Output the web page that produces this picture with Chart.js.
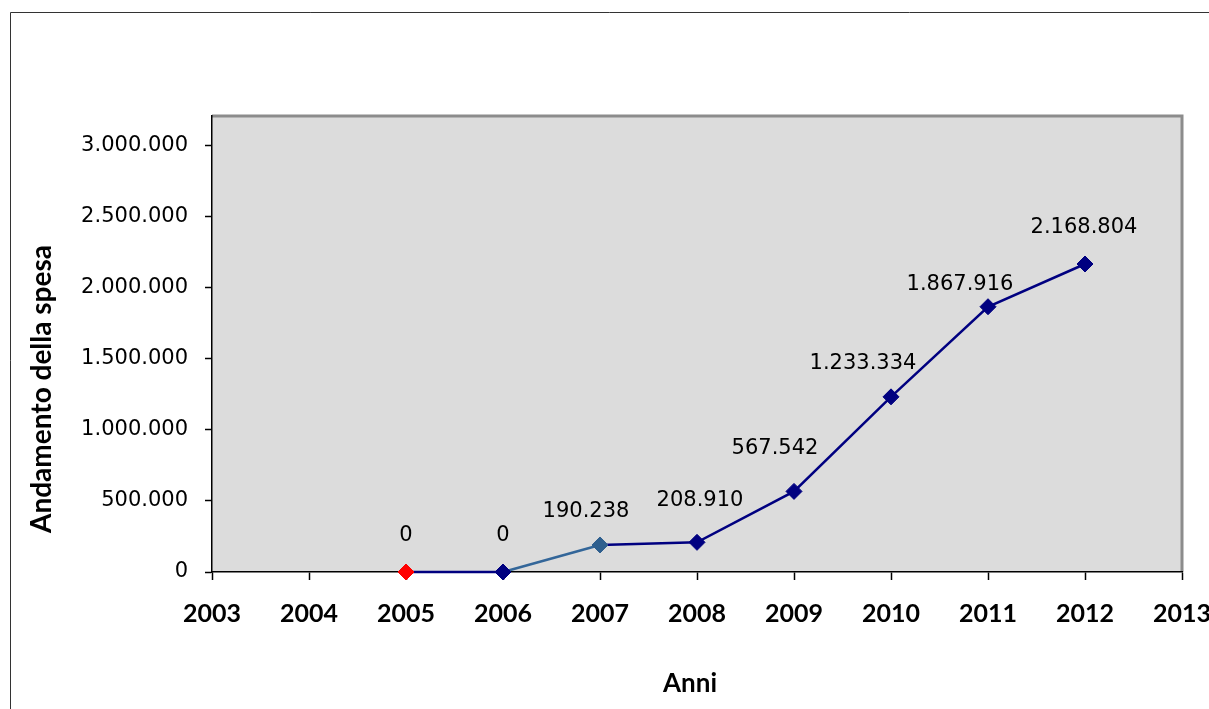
<!DOCTYPE html>
<html>
<head>
<meta charset="utf-8">
<script src="https://cdn.jsdelivr.net/npm/chart.js@4/dist/chart.umd.min.js"></script>
<style>
  html, body { margin: 0; padding: 0; background: #fff; }
  canvas { display: block; }
</style>
</head>
<body>
<canvas id="c" width="1209" height="709"></canvas>
<script>
// Spesa annua (euro), 2005–2012
const years = [2005, 2006, 2007, 2008, 2009, 2010, 2011, 2012];
const spesa = [0, 0, 190238, 208910, 567542, 1233334, 1867916, 2168804];
const yTicks = [0, 500000, 1000000, 1500000, 2000000, 2500000, 3000000];
const xTitle = 'Anni';
const yTitle = 'Andamento della spesa';

const NAVY = '#000080';
const STEEL = '#336699';
const pointColors = ['#FF0000', NAVY, '#2E5F8E', NAVY, NAVY, NAVY, NAVY, NAVY];

// offsets of each value label from its marker (pixels)
const labelOffsets = [[0, -36], [0, -36], [-14, -33], [3, -42], [-19, -43], [-28, -33], [-28, -22], [-1, -36]];

const fmt = v => String(Math.round(v)).replace(/\B(?=(\d{3})+(?!\d))/g, '.');

const frame = {
  id: 'frame',
  beforeDraw(chart) {
    const { ctx, chartArea: a } = chart;
    ctx.save();
    ctx.fillStyle = '#fff';
    ctx.fillRect(0, 0, chart.width, chart.height);
    // outer frame (left and top edges)
    ctx.strokeStyle = '#333';
    ctx.lineWidth = 1;
    ctx.beginPath();
    ctx.moveTo(10.5, chart.height);
    ctx.lineTo(10.5, 12.5);
    ctx.lineTo(chart.width, 12.5);
    ctx.stroke();
    // plot area
    ctx.fillStyle = '#DCDCDC';
    ctx.fillRect(a.left, a.top, a.right - a.left, a.bottom - a.top);
    ctx.strokeStyle = '#8C8C8C';
    ctx.lineWidth = 3;
    ctx.beginPath();
    ctx.moveTo(a.left, a.top);
    ctx.lineTo(a.right, a.top);
    ctx.lineTo(a.right, a.bottom);
    ctx.stroke();
    ctx.restore();
  },
  afterDraw(chart) {
    const { ctx } = chart;
    ctx.save();
    ctx.fillStyle = '#000';
    ctx.textAlign = 'center';
    ctx.textBaseline = 'middle';
    ctx.font = 'bold 26px Lato';
    ctx.fillText(xTitle, 690, 684);
    ctx.translate(42, 389);
    ctx.rotate(-Math.PI / 2);
    ctx.font = 'bold 28px Lato';
    ctx.fillText(yTitle, 0, 0);
    ctx.restore();
  }
};

const valueLabels = {
  id: 'valueLabels',
  afterDatasetsDraw(chart) {
    const { ctx } = chart;
    const meta = chart.getDatasetMeta(0);
    ctx.save();
    ctx.fillStyle = '#000';
    ctx.font = '21px "DejaVu Sans"';
    ctx.textAlign = 'center';
    ctx.textBaseline = 'middle';
    meta.data.forEach((pt, i) => {
      const [dx, dy] = labelOffsets[i];
      ctx.fillText(fmt(spesa[i]), pt.x + dx, pt.y + dy);
    });
    ctx.restore();
  }
};

new Chart(document.getElementById('c'), {
  type: 'line',
  data: {
    datasets: [{
      data: years.map((y, i) => ({ x: y, y: spesa[i] })),
      borderColor: NAVY,
      borderWidth: 2.5,
      pointStyle: 'rectRot',
      pointRadius: 8,
      pointHoverRadius: 8,
      pointBackgroundColor: pointColors,
      pointBorderColor: pointColors,
      pointBorderWidth: 1,
      tension: 0,
      clip: false,
      segment: {
        borderColor: c => (c.p0DataIndex === 1 ? STEEL : NAVY)
      }
    }]
  },
  plugins: [frame, valueLabels],
  options: {
    responsive: false,
    animation: false,
    events: [],
    layout: { padding: { top: 116, right: 27, left: 0, bottom: 0 } },
    plugins: { legend: { display: false }, tooltip: { enabled: false } },
    scales: {
      x: {
        type: 'linear',
        min: 2003,
        max: 2013,
        afterFit: s => { s.height = 137; s.paddingLeft = 0; s.paddingRight = 0; },
        ticks: {
          stepSize: 1,
          color: '#000',
          padding: 19,
          font: { family: 'Lato', weight: 'bold', size: 25 },
          callback: v => String(v)
        },
        grid: { drawOnChartArea: false, drawTicks: true, tickLength: 8, tickColor: '#000', tickWidth: 1.5 },
        border: { display: true, color: '#000', width: 1.5 }
      },
      y: {
        min: 0,
        max: 3211000,
        afterFit: s => { s.width = 212; s.paddingTop = 0; s.paddingBottom = 0; },
        afterBuildTicks: s => { s.ticks = yTicks.map(v => ({ value: v })); },
        ticks: {
          color: '#000',
          padding: 17,
          font: { family: 'DejaVu Sans', size: 21 },
          callback: v => fmt(v)
        },
        grid: { drawOnChartArea: false, drawTicks: true, tickLength: 7, tickColor: '#000', tickWidth: 1.5 },
        border: { display: true, color: '#000', width: 1.5 }
      }
    }
  }
});
</script>
</body>
</html>
